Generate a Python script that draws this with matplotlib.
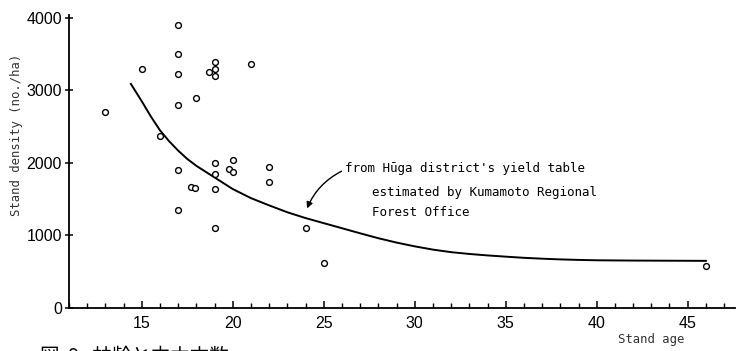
import matplotlib
matplotlib.use("Agg")
import matplotlib.pyplot as plt
from matplotlib.ticker import MultipleLocator

# Observed stands
ages = [13, 15, 16, 17, 17, 17, 17, 17, 17, 17.7, 17.9, 18, 18.7, 19, 19, 19,
        19, 19, 19, 19, 19.8, 20, 20, 21, 22, 22, 24, 25, 46]
densities = [2700, 3300, 2370, 3900, 3500, 3230, 2800, 1900, 1350, 1665, 1650,
             2900, 3250, 3390, 3300, 3200, 2000, 1850, 1640, 1100, 1910, 1870,
             2040, 3370, 1950, 1740, 1100, 620, 580]

# Yield-table curve
curve_ages = [14.4, 15, 15.5, 16, 16.5, 17, 17.5, 18, 19, 20, 21, 22, 23, 24,
              25, 26, 27, 28, 29, 30, 31, 32, 33, 34, 35, 36, 37, 38, 39, 40,
              42, 44, 46]
curve_dens = [3090, 2850, 2640, 2450, 2300, 2170, 2055, 1960, 1800, 1640, 1515,
              1415, 1320, 1240, 1170, 1100, 1030, 962, 902, 850, 805, 770, 745,
              725, 708, 692, 680, 670, 663, 658, 654, 652, 650]

xticks = [15, 20, 25, 30, 35, 40, 45]
yticks = [0, 1000, 2000, 3000, 4000]

W, H = 736, 351
fig = plt.figure(figsize=(W / 100, H / 100), dpi=100)
ax = fig.add_axes([69 / W, (H - 308) / H, (735 - 69) / W, 293 / H])

ax.plot(curve_ages, curve_dens, color="black", lw=1.4)
ax.plot(ages, densities, linestyle="none", marker="o", ms=4.2,
        mfc="white", mec="black", mew=1.0)

ax.set_xlim(11, 47.6)
ax.set_ylim(0, 4040)
for s in ("top", "right"):
    ax.spines[s].set_visible(False)
for s in ("left", "bottom"):
    ax.spines[s].set_linewidth(1.3)

ax.set_xticks(xticks)
ax.set_yticks(yticks)
ax.xaxis.set_minor_locator(MultipleLocator(1))
ax.tick_params(axis="x", which="major", direction="in", length=5, width=1.1,
               pad=6, labelsize=11.5)
ax.tick_params(axis="x", which="minor", direction="in", length=3.5, width=1.0)
ax.tick_params(axis="y", which="major", direction="inout", length=6, width=1.1,
               pad=2, labelsize=11.5)
for lab in ax.get_xticklabels() + ax.get_yticklabels():
    lab.set_fontfamily("Liberation Sans")

mono = "DejaVu Sans Mono"
fig.text(17 / W, 1 - 135 / H, "Stand density (no./ha)", rotation=90,
         ha="center", va="center", fontsize=8.8, family=mono, color="#333333")
fig.text(651 / W, 1 - 340 / H, "Stand age", ha="center", va="center",
         fontsize=8.8, family=mono, color="#333333")

fig.text(345 / W, 1 - 168 / H, "from H\u016bga district's yield table",
         ha="left", va="center", fontsize=9, family=mono)
fig.text(372 / W, 1 - 192 / H, "estimated by Kumamoto Regional",
         ha="left", va="center", fontsize=9, family=mono)
fig.text(372 / W, 1 - 213 / H, "Forest Office",
         ha="left", va="center", fontsize=9, family=mono)

ax.annotate("", xy=(306 / W, 1 - 211 / H), xycoords="figure fraction",
            xytext=(344 / W, 1 - 170 / H), textcoords="figure fraction",
            arrowprops=dict(arrowstyle="-|>", color="black", lw=1.0,
                            mutation_scale=9,
                            connectionstyle="arc3,rad=0.2"))

fig.text(40 / W, 1 - 346 / H, "図  9   林齢と立木本数", ha="left", va="top",
         fontsize=14, family=["Noto Sans CJK JP", "DejaVu Sans"])

fig.savefig("out.png", dpi=100)
